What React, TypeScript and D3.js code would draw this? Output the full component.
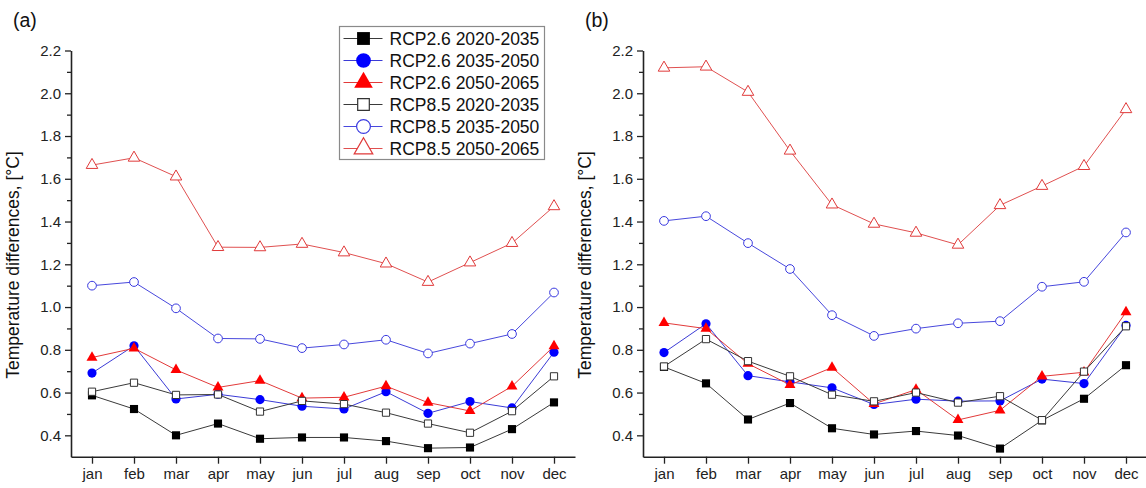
import { useRef, useEffect } from "react";
import * as d3 from "d3";

const WIDTH = 1146;
const HEIGHT = 488;
const FONT = "'Liberation Sans', Arial, sans-serif";

const MONTHS = ["jan", "feb", "mar", "apr", "may", "jun", "jul", "aug", "sep", "oct", "nov", "dec"];
const Y_TICKS = [0.4, 0.6, 0.8, 1.0, 1.2, 1.4, 1.6, 1.8, 2.0, 2.2];
const Y_MINOR = [0.5, 0.7, 0.9, 1.1, 1.3, 1.5, 1.7, 1.9, 2.1];
const SERIES_NAMES = [
  "RCP2.6 2020-2035",
  "RCP2.6 2035-2050",
  "RCP2.6 2050-2065",
  "RCP8.5 2020-2035",
  "RCP8.5 2035-2050",
  "RCP8.5 2050-2065",
];
const PANEL_LABELS = ["(a)", "(b)"];
const Y_TITLE = "Temperature differences, [°C]";

// panel (a)
const A_RCP26_2020 = [0.587, 0.523, 0.4, 0.455, 0.384, 0.39, 0.39, 0.373, 0.34, 0.343, 0.429, 0.554];
const A_RCP26_2035 = [0.691, 0.819, 0.57, 0.592, 0.567, 0.536, 0.523, 0.604, 0.503, 0.558, 0.528, 0.789];
const A_RCP26_2050 = [0.764, 0.807, 0.706, 0.624, 0.656, 0.574, 0.578, 0.63, 0.553, 0.514, 0.629, 0.817];
const A_RCP85_2020 = [0.604, 0.646, 0.589, 0.591, 0.511, 0.561, 0.546, 0.506, 0.455, 0.412, 0.513, 0.676];
const A_RCP85_2035 = [1.1, 1.117, 0.994, 0.853, 0.851, 0.808, 0.825, 0.847, 0.783, 0.829, 0.874, 1.068];
const A_RCP85_2050 = [1.664, 1.698, 1.61, 1.28, 1.279, 1.295, 1.255, 1.203, 1.117, 1.208, 1.299, 1.471];

// panel (b)
const B_RCP26_2020 = [0.72, 0.643, 0.474, 0.551, 0.433, 0.404, 0.42, 0.399, 0.338, 0.47, 0.571, 0.728];
const B_RCP26_2035 = [0.787, 0.922, 0.679, 0.65, 0.622, 0.544, 0.569, 0.56, 0.561, 0.663, 0.642, 0.914];
const B_RCP26_2050 = [0.926, 0.899, 0.735, 0.636, 0.717, 0.547, 0.614, 0.472, 0.517, 0.676, 0.695, 0.976];
const B_RCP85_2020 = [0.722, 0.85, 0.747, 0.676, 0.59, 0.559, 0.6, 0.553, 0.583, 0.471, 0.698, 0.91];
const B_RCP85_2035 = [1.403, 1.425, 1.299, 1.178, 0.962, 0.865, 0.899, 0.924, 0.934, 1.095, 1.118, 1.349];
const B_RCP85_2050 = [2.119, 2.124, 2.006, 1.731, 1.479, 1.389, 1.347, 1.291, 1.476, 1.566, 1.659, 1.925];

const PANEL_DATA = [
  [A_RCP26_2020, A_RCP26_2035, A_RCP26_2050, A_RCP85_2020, A_RCP85_2035, A_RCP85_2050],
  [B_RCP26_2020, B_RCP26_2035, B_RCP26_2050, B_RCP85_2020, B_RCP85_2035, B_RCP85_2050],
];

interface SeriesStyle {
  shape: d3.SymbolType;
  filled: boolean;
  color: string;
  line: string;
  size: number;
  legendSize: number;
}

const STYLES: SeriesStyle[] = [
  { shape: d3.symbolSquare, filled: true, color: "#000000", line: "#3a3a3a", size: 66, legendSize: 165 },
  { shape: d3.symbolCircle, filled: true, color: "#0000ff", line: "#3b3bd6", size: 66, legendSize: 170 },
  { shape: d3.symbolTriangle, filled: true, color: "#ff0000", line: "#e23a3a", size: 52, legendSize: 150 },
  { shape: d3.symbolSquare, filled: false, color: "#333333", line: "#3a3a3a", size: 52, legendSize: 135 },
  { shape: d3.symbolCircle, filled: false, color: "#3a3ae0", line: "#4848dd", size: 60, legendSize: 150 },
  { shape: d3.symbolTriangle, filled: false, color: "#e03a3a", line: "#e05050", size: 58, legendSize: 150 },
];

const PANEL_X0 = [71, 643];
const STEP = 42;
const Y_TOP = 50.5;
const Y_BOTTOM = 456.7;

export default function App() {
  const svgRef = useRef<SVGSVGElement>(null);

  useEffect(() => {
    const svg = d3.select(svgRef.current);
    svg.selectAll("*").remove();

    const y = d3.scaleLinear().domain([0.3, 2.2]).range([Y_BOTTOM, Y_TOP]);

    PANEL_DATA.forEach((series, p) => {
      const x0 = PANEL_X0[p];
      const x = d3.scaleLinear().domain([0.5, 12.5]).range([x0, x0 + STEP * 12]);
      const g = svg.append("g");

      // panel label
      g.append("text")
        .attr("x", x0 - 58)
        .attr("y", 27)
        .attr("font-size", "19.5px")
        .attr("fill", "#111")
        .text(PANEL_LABELS[p]);

      // y title
      g.append("text")
        .attr("transform", `translate(${x0 - 52},265) rotate(-90)`)
        .attr("text-anchor", "middle")
        .attr("font-size", "17.5px")
        .attr("fill", "#111")
        .text(Y_TITLE);

      // y axis: minor ticks then major
      g.append("g")
        .attr("transform", `translate(${x0},0)`)
        .call(d3.axisLeft(y).tickValues(Y_MINOR).tickSize(4).tickFormat(() => ""))
        .call((a) => {
          a.select(".domain").remove();
          a.selectAll(".tick line").attr("stroke", "#222").attr("stroke-width", 1.3);
        });
      g.append("g")
        .attr("transform", `translate(${x0},0)`)
        .call(
          d3.axisLeft(y).tickValues(Y_TICKS).tickSize(6).tickPadding(4).tickSizeOuter(0)
            .tickFormat((d) => (d as number).toFixed(1))
        )
        .call((a) => {
          a.select(".domain").attr("stroke", "#222").attr("stroke-width", 1.6);
          a.selectAll(".tick line").attr("stroke", "#222").attr("stroke-width", 1.3);
          a.selectAll(".tick text")
            .attr("fill", "#222")
            .attr("font-size", "15px")
            .attr("font-family", FONT);
        });

      // x axis
      g.append("g")
        .attr("transform", `translate(0,${Y_BOTTOM})`)
        .call(
          d3.axisBottom(x).tickValues(d3.range(1, 13)).tickSize(7).tickPadding(5).tickSizeOuter(0)
            .tickFormat((d) => MONTHS[(d as number) - 1])
        )
        .call((a) => {
          a.select(".domain").attr("stroke", "#222").attr("stroke-width", 1.6);
          a.selectAll(".tick line").attr("stroke", "#222").attr("stroke-width", 1.3);
          a.selectAll(".tick text")
            .attr("fill", "#222")
            .attr("font-size", "15px")
            .attr("font-family", FONT);
        });

      // series, legend order = drawing order
      series.forEach((vals, s) => {
        const st = STYLES[s];
        const line = d3
          .line<number>()
          .x((_, i) => x(i + 1))
          .y((d) => y(d));
        g.append("path")
          .datum(vals)
          .attr("fill", "none")
          .attr("stroke", st.line)
          .attr("stroke-width", 1)
          .attr("d", line);
        g.selectAll(null)
          .data(vals)
          .enter()
          .append("path")
          .attr("transform", (d, i) => `translate(${x(i + 1)},${y(d)})`)
          .attr("d", d3.symbol(st.shape, st.size)())
          .attr("fill", st.filled ? st.color : "#fff")
          .attr("stroke", st.filled ? "none" : st.color)
          .attr("stroke-width", 1);
      });
    });

    // legend in panel (a)
    const lg = svg.append("g").attr("transform", "translate(339.5,26.5)");
    lg.append("rect")
      .attr("width", 205)
      .attr("height", 133)
      .attr("fill", "#fff")
      .attr("stroke", "#8a8a8a")
      .attr("stroke-width", 1.2);
    SERIES_NAMES.forEach((name, i) => {
      const st = STYLES[i];
      const cy = 12 + i * 22;
      lg.append("line")
        .attr("x1", 4)
        .attr("x2", 43)
        .attr("y1", cy)
        .attr("y2", cy)
        .attr("stroke", st.line)
        .attr("stroke-width", 1);
      lg.append("path")
        .attr("transform", `translate(24,${cy})`)
        .attr("d", d3.symbol(st.shape, st.legendSize)())
        .attr("fill", st.filled ? st.color : "#fff")
        .attr("stroke", st.filled ? "none" : st.color)
        .attr("stroke-width", 1.2);
      lg.append("text")
        .attr("x", 50)
        .attr("y", cy + 6.3)
        .attr("font-size", "17.5px")
        .attr("fill", "#111")
        .text(name);
    });
  }, []);

  return (
    <svg
      ref={svgRef}
      width={WIDTH}
      height={HEIGHT}
      style={{ position: "absolute", left: 0, top: 0, background: "#fff", fontFamily: FONT }}
    />
  );
}
